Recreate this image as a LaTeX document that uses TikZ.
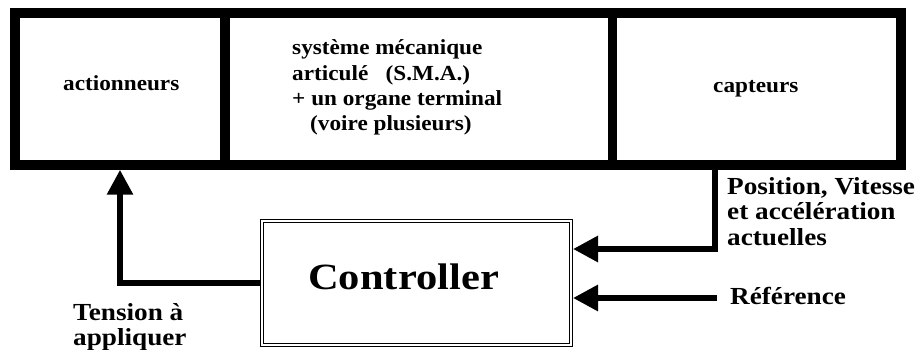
\documentclass[tikz,border=0pt]{standalone}
\usepackage{fontspec}
\setmainfont{Liberation Serif}
\usetikzlibrary{arrows.meta}

\tikzset{
  cell/.style={draw, line width=9.5pt, minimum height=152pt, inner sep=0pt},
  boxtxt/.style={font=\bfseries\fontsize{21.5}{26}\selectfont, inner sep=0pt, anchor=base west, xscale=1.08},
  sigtxt/.style={font=\bfseries\fontsize{24.5}{26}\selectfont, inner sep=0pt, anchor=base west, xscale=1.11},
  ctrlbox/.style={draw, double, line width=0.9pt, double distance=2.2pt, outer sep=2pt,
                  minimum width=309pt, minimum height=124pt, inner sep=0pt},
  signal/.style={line width=6pt, -{Triangle[length=25pt,width=25pt]}}
}

\begin{document}
\begin{tikzpicture}[x=1pt, y=-1pt]
\useasboundingbox (0,0) rectangle (922,350);

% the mechanical chain: actuators, articulated system, sensors
\node[cell, minimum width=210pt]   (act) at (120,89)    {};
\node[cell, minimum width=387.5pt] (sma) at (418.75,89) {};
\node[cell, minimum width=288.5pt] (cap) at (756.75,89) {};

\node[boxtxt] (actlbl) at (63,91) {actionneurs};
\node[boxtxt] (caplbl) at (713,93) {capteurs};
\node[boxtxt] (sma1) at (292,55)  {système mécanique};
\node[boxtxt] (sma2) at (292,81)  {articulé\ \ \ (S.M.A.)};
\node[boxtxt] (sma3) at (292,106) {+ un organe terminal};
\node[boxtxt] (sma4) at (310,131) {(voire plusieurs)};

% the controller
\node[ctrlbox] (ctrl) at (416.5,283) {};
\node[font=\bfseries\fontsize{37}{40}\selectfont, inner sep=0pt, anchor=base west, xscale=1.15]
  (ctrllbl) at (308,289) {Controller};

% signals
\coordinate (fb)  at (715,169.75);
\coordinate (ref) at (717,298);

\draw[signal] (ctrl.west) -| (act.south);
\draw[signal] (fb) |- ([yshift=34pt]ctrl.east);
\draw[signal] (ref) -- (ref -| ctrl.east);

\node[sigtxt] (pos1) at (727,195) {Position, Vitesse};
\node[sigtxt] (pos2) at (727,220) {et accélération};
\node[sigtxt] (pos3) at (727,245) {actuelles};
\node[sigtxt] (reflbl) at (730,305) {Référence};
\node[sigtxt] (ten1) at (73,320) {Tension à};
\node[sigtxt] (ten2) at (73,345) {appliquer};
\end{tikzpicture}
\end{document}
